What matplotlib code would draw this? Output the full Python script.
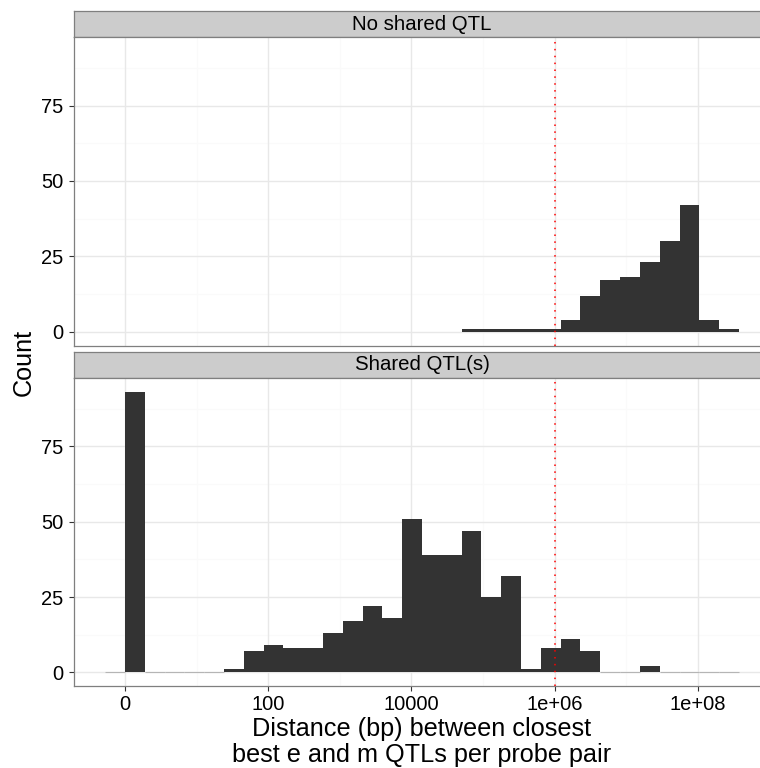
import numpy as np
import matplotlib
matplotlib.use("Agg")
import matplotlib.pyplot as plt

plt.rcParams['font.family'] = ['Liberation Sans', 'DejaVu Sans']

# histogram bins in log10(distance + 1) units
bin_width = 0.2766

# panel 1: "No shared QTL", counts for bins 17..30
no_shared_first_bin = 17
no_shared_counts = [1, 1, 1, 1, 1, 4, 12, 17, 18, 23, 30, 42, 4, 1]

# panel 2: "Shared QTL(s)", counts for bins -1..30
shared_first_bin = -1
shared_counts = [0, 93, 0, 0, 0, 0, 1, 7, 9, 8, 8, 13, 17, 22, 18, 51,
                 39, 39, 47, 25, 32, 1, 8, 11, 7, 0, 0, 2, 0, 0, 0, 0]

panel_titles = ["No shared QTL", "Shared QTL(s)"]
x_ticks = [0, 2, 4, 6, 8]
x_labels = ["0", "100", "10000", "1e+06", "1e+08"]
y_ticks = [0, 25, 50, 75]
cutoff = 6  # 1e+06 bp

W, H = 760, 768
fig = plt.figure(figsize=(W / 100, H / 100), dpi=100)


def px_axes(x0, top, w, h):
    return fig.add_axes([x0 / W, 1 - (top + h) / H, w / W, h / H])


panel_left, panel_w = 73.5, 697.1
strip_h, panel_h = 26.3, 308.4
tops = [11, 351.7]

xlim = (-0.719, 9.017)
ylim = (-4.65, 97.65)
tick_size = 14.5
strip_size = 14.7
title_size = 18.2

panels = [(no_shared_first_bin, no_shared_counts), (shared_first_bin, shared_counts)]

for i, (first, counts) in enumerate(panels):
    strip = px_axes(panel_left, tops[i], panel_w, strip_h)
    strip.set_facecolor('#cccccc')
    strip.set_xticks([])
    strip.set_yticks([])
    for s in strip.spines.values():
        s.set_color('#7f7f7f')
        s.set_linewidth(0.9)
    strip.text(0.5, 0.5, panel_titles[i], transform=strip.transAxes,
               ha='center', va='center', fontsize=strip_size, color='black')

    ax = px_axes(panel_left, tops[i] + strip_h, panel_w, panel_h)
    ax.set_xlim(*xlim)
    ax.set_ylim(*ylim)

    # grid
    for v in [1, 3, 5, 7, 9]:
        ax.axvline(v, color='#fafafa', lw=1.0, zorder=0)
    for v in [12.5, 37.5, 62.5, 87.5]:
        ax.axhline(v, color='#fafafa', lw=1.0, zorder=0)
    for v in x_ticks:
        ax.axvline(v, color='#e8e8e8', lw=1.0, zorder=0)
    for v in y_ticks:
        ax.axhline(v, color='#e8e8e8', lw=1.0, zorder=0)

    counts = np.array(counts)
    lefts = (first + np.arange(len(counts))) * bin_width
    ax.bar(lefts, counts, width=bin_width, align='edge', color='#333333',
           linewidth=0, zorder=2)
    zero = counts == 0
    if zero.any():
        ax.hlines(np.zeros(zero.sum()), lefts[zero], lefts[zero] + bin_width,
                  colors='#b5b5b5', lw=0.8, zorder=2)

    ax.axvline(cutoff, color='red', lw=1.1, linestyle=(0, (1, 3.5)), zorder=3)

    for s in ax.spines.values():
        s.set_color('#7f7f7f')
        s.set_linewidth(0.9)
    ax.set_yticks(y_ticks)
    ax.set_yticklabels([str(v) for v in y_ticks])
    ax.tick_params(axis='y', length=3.6, width=0.8, color='#333333',
                   labelsize=tick_size, pad=3.5, labelcolor='black')
    if i == 0:
        ax.set_xticks([])
    else:
        ax.set_xticks(x_ticks)
        ax.set_xticklabels(x_labels)
        ax.tick_params(axis='x', length=3.6, width=0.8, color='#333333',
                       labelsize=tick_size, pad=2.5, labelcolor='black')

fig.text(24 / W, 1 - 362 / H, "Count", rotation=90, ha='center', va='center',
         fontsize=title_size)
fig.text(422 / W, 1 - 742 / H,
         "Distance (bp) between closest\nbest e and m QTLs per probe pair",
         ha='center', va='center', multialignment='center', fontsize=title_size,
         linespacing=1.1)

fig.savefig("out.png", dpi=100)
